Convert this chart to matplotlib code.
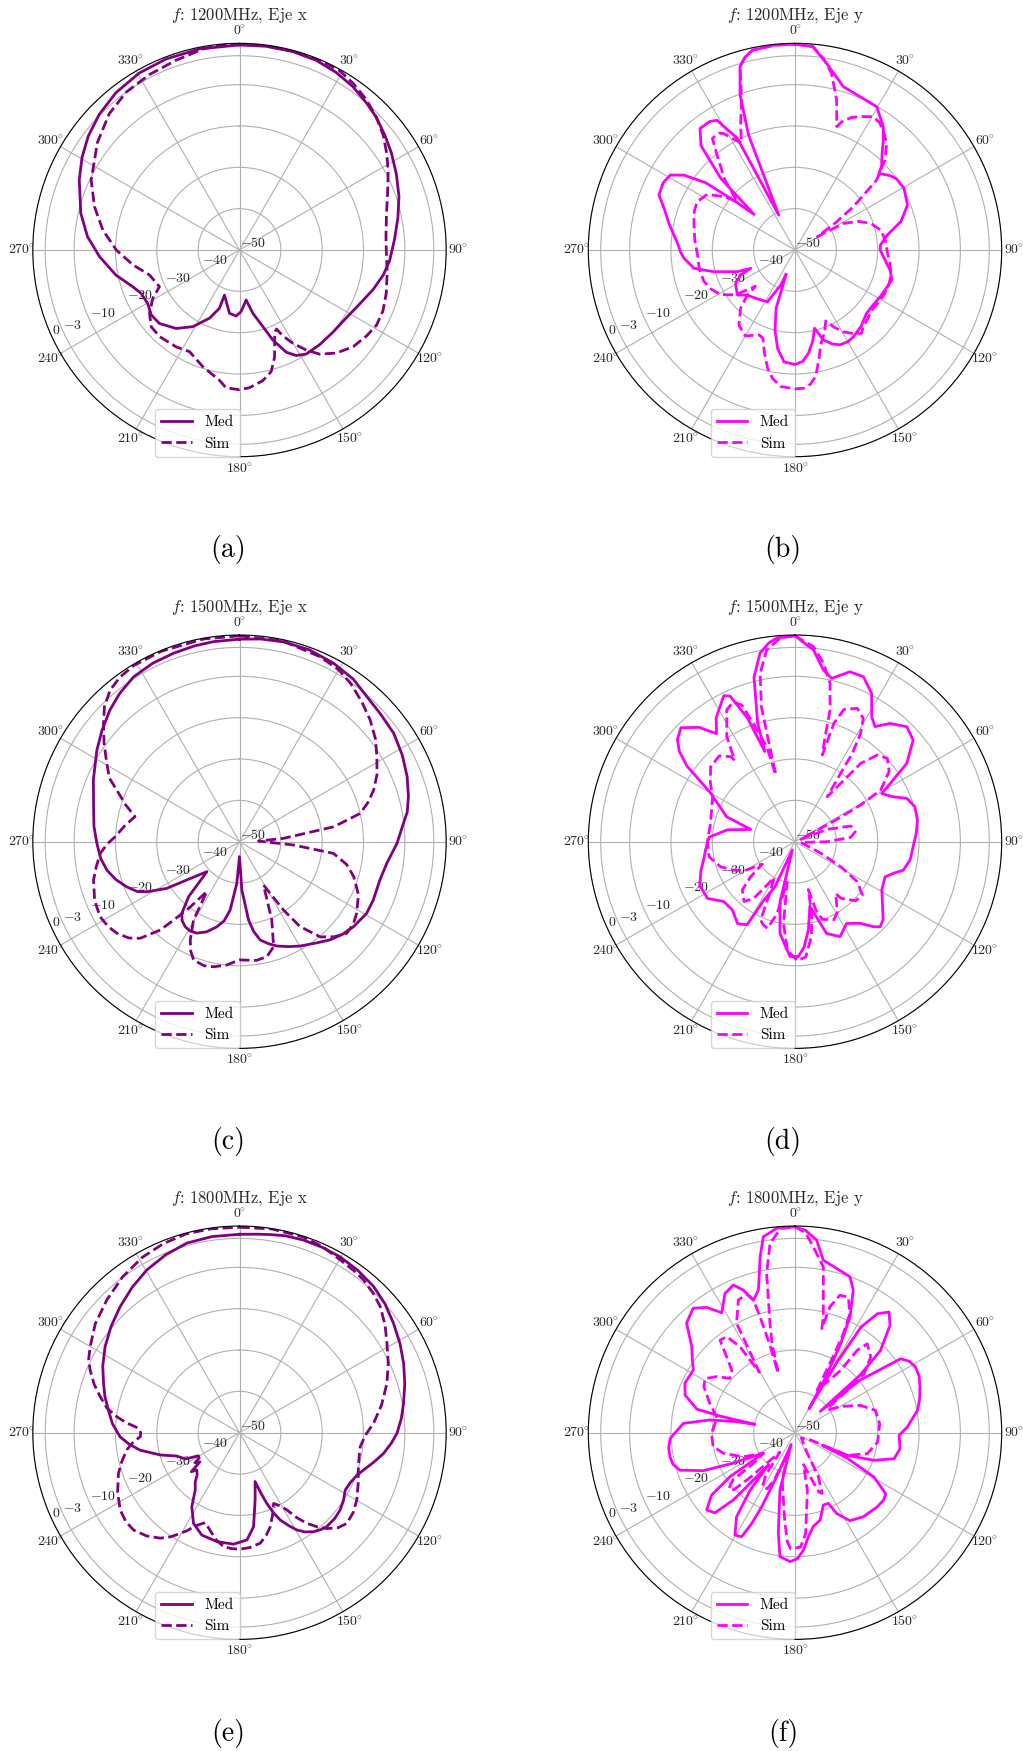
import numpy as np
import matplotlib.pyplot as plt

plt.rcParams['font.family'] = ['cmr10', 'DejaVu Serif']
plt.rcParams['mathtext.fontset'] = 'cm'
plt.rcParams['axes.unicode_minus'] = False

# Patrones de radiacion: (angulo en grados, nivel normalizado en dB)
a_med = [(0, -0.4), (7.4, -0.3), (15, -0.3), (22, -0.5), (28.6, -1.1), (34.8, -1.9), (40.8, -3),
         (45.9, -3.9), (51.7, -5.2), (57.5, -6.4), (64.4, -7.9), (71.4, -9.3), (78.5, -10.9),
         (86, -12.4), (94.1, -13.6), (99.9, -14.7), (106.5, -16.3), (114, -18.1), (122.5, -19.4),
         (131.4, -19.9), (139.8, -20), (147.3, -20.1), (151.7, -21), (155.4, -22.8),
         (159.7, -26.8), (163, -30.6), (168, -34.3), (172.4, -37.8), (178.5, -35.1),
         (182.9, -34), (189, -34.5), (198.4, -38.5), (199, -35.1), (203.7, -32), (211.3, -28.3),
         (218.9, -25.6), (227.5, -23.7), (233.7, -23.5), (239.8, -24.3), (246.2, -24),
         (251, -22.7), (258.5, -19.5), (267.3, -16.1), (275, -13.1), (283, -10.6),
         (293.6, -7.7), (300.5, -5.8), (307, -4.2), (314.1, -2.8), (321.9, -1.6), (330.5, -0.8),
         (339, -0.5), (348.8, -0.4), (360, -0.4)]
a_sim = [(0, -0.2), (7.4, -0.2), (14.8, -0.2), (22.5, -0.2), (29, -0.3), (34.3, -1.2),
         (40.1, -2.4), (45.9, -3.9), (51.4, -5.5), (56.7, -7.4), (62.1, -9.3), (68.9, -11.6),
         (76.3, -13.4), (84.4, -14.4), (90, -14.5), (98.3, -13.9), (106.3, -13), (113, -12.3),
         (118.8, -12.2), (124.1, -12.9), (130.4, -13.9), (136.8, -15.8), (142.4, -18.2),
         (146.3, -20.9), (150.2, -24), (153.2, -26.7), (154.9, -28.9), (156.9, -28.3),
         (161.9, -22.7), (165.4, -19.6), (169.9, -17.9), (175.9, -16.6), (180, -16.2),
         (185.6, -16.5), (188.7, -18.1), (197.4, -20.4), (206.2, -22.6), (213.2, -22),
         (222.7, -21.5), (229, -21.7), (234.9, -23.4), (240.9, -26), (245.4, -28.7),
         (254.5, -27.4), (262, -24), (270, -20.2), (278.3, -16.6), (286.6, -13.4),
         (295.3, -10.3), (298.2, -9.7), (307.1, -6.9), (316.3, -4.4), (324.3, -3),
         (332.8, -2.3), (341.5, -1.6), (349.6, -0.6), (355, -0.2), (360, -0.2)]

b_med = [(0, -0.2), (5, -0.6), (9.6, -4.2), (16.5, -8.8), (23, -9.7), (29.7, -10.1),
         (35.6, -13.3), (38.8, -15.9), (42, -18.5), (46, -20.9), (47.6, -22.5), (52, -20.8),
         (55, -20), (60.5, -19.7), (68.2, -20.7), (75, -23.5), (80.8, -27.4), (86.7, -29.3),
         (90, -29.4), (96.3, -28.1), (101.9, -26.5), (107, -25.5), (112, -26), (118.8, -26.5),
         (125, -26.9), (131.5, -26.9), (139, -25.6), (146, -24.7), (150, -24.4), (154.6, -24.6),
         (158.5, -25.6), (162.5, -27.2), (166, -30.5), (169, -27.5), (172.6, -24.8), (176, -23),
         (180, -22.3), (185.6, -22.8), (190, -25.8), (194, -30), (198, -35.2), (200, -43.8),
         (202, -40.9), (208, -35.8), (217.5, -35.1), (226.6, -34.1), (232, -32.3),
         (240.7, -33.5), (245.3, -35.5), (247.5, -38.4), (249.4, -35.1), (255, -29.7),
         (259.7, -25.2), (265.7, -23.1), (269, -22.3), (273, -21.6), (277, -20.5),
         (282, -18.8), (287.6, -16.8), (292, -14.5), (297, -14.2), (301, -14.8), (304, -17.6),
         (307, -23), (309, -30.8), (311, -36.9), (314, -25), (318, -16), (322, -12.7),
         (326.5, -12.7), (329, -13.4), (332.7, -19.6), (335, -40.7), (338, -20), (340.5, -10.2),
         (343.3, -3.7), (345.5, -1.8), (348, -0.6), (354, -0.2), (360, -0.2)]
b_sim = [(0, -0.2), (5, -0.6), (8.5, -3.2), (11.7, -6.4), (15.5, -12.3), (18.7, -18.5),
         (20, -17), (23, -15.2), (26, -14.1), (30.4, -12.6), (33.5, -13), (36.4, -14),
         (40.7, -16), (45, -19.2), (49.4, -24), (53.4, -32.4), (56, -38), (59, -43.7),
         (61.4, -36.5), (66, -33), (70.6, -30.6), (76.9, -28.7), (84, -28), (91, -27.7),
         (98, -26.8), (104.6, -26), (110, -25.8), (116.8, -25.9), (123, -26.2), (129, -26.4),
         (134, -25.7), (139, -25), (141.3, -24.2), (145, -25.3), (149.4, -27), (153, -29),
         (156.6, -31.3), (160, -29), (164.9, -26.2), (167.5, -23.1), (170.7, -19),
         (173.5, -17.3), (176.3, -16.5), (180, -16.4), (186, -16.8), (190, -18.5),
         (193, -20.6), (196.5, -24), (200, -27.3), (203, -27.7), (210, -26), (216.7, -27.3),
         (223, -30.7), (226.6, -34.1), (227.5, -37), (233, -32), (239, -29), (245, -27.6),
         (251, -26.7), (259, -26.4), (267, -26.4), (276, -25.6), (285.7, -24.6),
         (291, -23.9), (296.3, -23.6), (302.4, -24.9), (306.9, -28.5), (310, -31.8),
         (315, -26), (320, -21), (323.5, -16.4), (326.9, -16.3), (328.4, -16.9),
         (333.4, -21.1), (336.5, -17), (340.4, -11.5), (343.3, -3.7), (345.5, -1.8),
         (348, -0.6), (354, -0.2), (360, -0.2)]

c_med = [(0, -1.0), (6, -0.7), (12.4, -0.5), (20, -0.6), (27.8, -1.2), (35, -2), (41.3, -3.3),
         (48, -4), (54.9, -4.4), (62, -5.4), (68.8, -6.5), (75, -7.7), (80, -8.8), (83.6, -10.1),
         (90.6, -11.9), (98.4, -14), (105.2, -14.8), (113.5, -14.7), (119.4, -14.7),
         (126.7, -15.6), (132, -16.5), (137.3, -17.7), (143, -19.3), (149.8, -20.8),
         (155, -22), (160.3, -23.2), (164, -24.3), (168.1, -25.7), (171, -28), (173.4, -30.9),
         (177.2, -38.3), (180, -46.4), (183.7, -39.9), (187.8, -33.3), (191, -30.5),
         (194.9, -28.7), (200, -26.8), (205, -25.6), (209, -25.3), (212.6, -25.6),
         (216, -26.4), (218.8, -27.7), (222.8, -31.9), (227.4, -39.3), (234, -34.3),
         (237.3, -29.1), (241.6, -24.5), (244, -22.5), (248.2, -20.6), (253, -18.7),
         (257.9, -17.2), (263, -16.2), (269.3, -15.5), (276, -14.6), (283.5, -13.7),
         (293, -11.6), (302.7, -9), (309, -7.2), (315.5, -5.3), (321, -3.9), (327.3, -2.6),
         (334, -2), (340.7, -1.7), (347, -1.4), (352.6, -1.2), (360, -1.0)]
c_sim = [(0, -0.2), (12, -0.3), (23.6, -1.2), (30, -2), (35, -3.2), (41, -5), (47, -6.8),
         (53, -8.8), (58.2, -10.9), (64, -13), (68.9, -15.2), (73, -17.5), (76.8, -20),
         (81, -26.9), (85.7, -39.4), (88, -45.4), (93.5, -36.9), (97.1, -27.1), (102, -23.5),
         (107, -21.1), (114, -18.5), (121.4, -16.8), (126, -16), (130.5, -15.9), (135, -17.5),
         (139.7, -19.8), (144.5, -24.8), (147.2, -30.3), (151, -38), (157.6, -29.5),
         (162, -23.3), (166.6, -21.4), (172, -21), (180, -21.4), (186, -20), (191.7, -19.1),
         (196, -18.8), (201.2, -19.3), (204, -21), (206.6, -23.4), (210.4, -28),
         (213.2, -35.6), (217.6, -29.1), (221.9, -21.3), (225.8, -16.5), (229, -14.5),
         (233.2, -13), (237, -12.2), (241.7, -11.7), (248, -12.2), (255.3, -13.5),
         (260, -14.8), (265.2, -16.2), (269, -18), (272.3, -19.9), (278, -22), (283.5, -24),
         (288, -21), (292.8, -17.8), (296, -15), (300.6, -12.7), (306, -9.5), (311, -6.4),
         (315, -3.8), (319.5, -1.8), (324, -0.8), (329, -0.3), (337.7, -0.2), (350, -0.2),
         (360, -0.2)]

d_med = [(0, -0.2), (5.5, -3.4), (9.4, -7.9), (12.7, -9.5), (17.9, -6.8), (22.5, -6.8),
         (27.3, -9.6), (31.5, -14.5), (34.8, -16.1), (38.8, -13.3), (44.2, -11.2), (49.3, -12.3),
         (55, -17), (61, -26), (65.4, -23.9), (68.8, -21), (73.7, -19.8), (80, -19.9),
         (86, -20.6), (92.4, -21.4), (99, -21.8), (104.7, -22.9), (107.8, -25), (111.3, -26.6),
         (119, -26), (126.6, -23.6), (131.6, -21.5), (135, -20.9), (137.3, -22),
         (141.5, -24.8), (147.7, -26.6), (154.6, -24.6), (161, -26.5), (163.4, -30.2),
         (167, -34), (171.4, -28.4), (175, -24.5), (178.3, -22.2), (182.5, -22.2),
         (189.3, -27.5), (194, -35), (197.7, -47.9), (204, -38), (208, -34), (210, -26.8),
         (215, -25.8), (222.5, -27.6), (230, -27.5), (237, -24.8), (245, -24.6), (253, -26.2),
         (259, -27.5), (265, -28.3), (273, -29.2), (280, -33.4), (285.5, -38.9), (290, -32.4),
         (300, -26.4), (305, -18.1), (308, -14.5), (311, -12.3), (315, -11), (320, -13.9),
         (324, -17.7), (327.5, -14.5), (331, -12.6), (334, -10.7), (336, -11.5), (339, -18),
         (341.5, -27), (342.5, -20), (346, -9), (349.5, -3.6), (352.5, -1.5), (355, -0.5),
         (360, -0.2)]
d_sim = [(0, -0.2), (5.4, -2.6), (9, -6.2), (12.5, -10.8), (14.9, -17), (16, -23.6),
         (17.5, -28), (18.2, -19.8), (20.3, -15.9), (25, -14.4), (29, -15.9), (31.2, -19.4),
         (33, -24.5), (33.7, -30.1), (35.7, -36.6), (38.5, -31), (40, -25.3), (43.5, -21.1),
         (47.9, -19.9), (53.3, -21.6), (58.9, -25.8), (60.8, -31.8), (62, -39), (67.6, -48.5),
         (69, -41.6), (74.3, -36), (80.6, -35.2), (85.5, -36.5), (90, -42.2), (97, -48.6),
         (114, -43.2), (118.7, -37.4), (122.7, -32.1), (128.4, -29.2), (134.2, -29.5),
         (141, -32.4), (141.8, -34.1), (148.8, -30.2), (153.5, -28.9), (160.6, -30.1),
         (163, -32.7), (164.5, -38), (167, -32), (170.2, -26.7), (174.7, -22), (178.9, -21.2),
         (184, -23.7), (188, -30), (191, -40), (194, -32), (197.7, -28), (201, -28.5),
         (203.7, -29.3), (206, -36), (210, -40), (216, -33), (220.4, -31), (227.5, -32.7),
         (231.7, -36.3), (235.6, -40.4), (240, -36), (245, -33.7), (251.4, -31), (260, -28.9),
         (270, -28.8), (282, -29.1), (290, -28.5), (298.6, -27.3), (305, -25), (311.6, -22.7),
         (318.5, -22.3), (322.9, -24.2), (323.5, -25.5), (327, -19.7), (332.6, -14.1),
         (336.2, -13), (338.7, -14.5), (340.6, -19.7), (343.4, -26), (344, -33.2),
         (345.3, -24.6), (346, -16.4), (348.3, -8.4), (351.6, -3.1), (356, -0.5), (360, -0.2)]

e_med = [(0, -2), (5, -1.8), (8.8, -1.5), (13, -1.1), (18.4, -0.9), (24, -0.9), (29.8, -1),
         (36, -1.4), (42.5, -2), (48.5, -3), (54.6, -4.3), (61, -5.6), (67.1, -6.9),
         (73.5, -8.3), (79.9, -9.7), (85, -10.7), (90.2, -11.9), (94, -13.2), (98.2, -14.8),
         (102.5, -16.8), (106.8, -18.7), (110, -19.8), (114.3, -20.6), (118.5, -20.9),
         (123, -20), (127.5, -19.3), (132, -19), (137.1, -19), (140, -19.4), (143.2, -20.1),
         (146.5, -21.2), (149.5, -22.7), (152, -24.5), (155, -26.7), (157, -29), (158.9, -31.7),
         (160.5, -34.5), (162.3, -37.6), (166.9, -33.3), (171.5, -27), (176, -24), (183, -23),
         (191.7, -23.1), (200.2, -23.6), (206.9, -25.4), (212.8, -28.7), (217.7, -32.5),
         (222, -34), (225, -35.5), (228.8, -36.3), (231, -35), (233.6, -38.1), (236, -37),
         (238, -38.5), (240.7, -38.6), (244, -35.5), (249.6, -33.8), (254.3, -30.1),
         (260, -25.6), (264, -23.2), (268, -21.1), (274, -19.2), (279.8, -17.8), (285, -16.3),
         (290, -15), (296, -13.2), (302.6, -11.4), (309.5, -9.7), (316.6, -8), (323.5, -6.3),
         (330.3, -4.7), (337.5, -3.4), (344.5, -2.4), (352, -2.1), (360, -2)]
e_sim = [(0, -0.3), (9, -0.1), (18, -0.2), (24, -0.7), (30.2, -1.6), (35, -2), (39.1, -2.4),
         (44, -3.3), (48.2, -4.3), (53.5, -6.2), (58.8, -8.3), (65, -10.3), (71.5, -12.4),
         (79, -15), (86, -17.5), (91, -19.5), (96.6, -20.6), (101, -20.5), (105.9, -20.1),
         (113, -18.8), (119.8, -17.3), (125, -16.4), (130.2, -16), (134, -16.9),
         (137.6, -18.6), (140.5, -20.5), (143.4, -22.7), (146, -25.2), (148.5, -28.1),
         (151, -29.8), (154.3, -31), (158, -28.6), (162, -26), (165.5, -24.3), (169.4, -22.8),
         (175, -22.1), (180, -21.8), (184, -21.9), (188, -22.2), (192, -23.4), (195.4, -24.8),
         (198, -25.8), (200.9, -26.7), (203.5, -25.8), (206, -24.7), (208, -23.2),
         (210.5, -21.7), (213.5, -19.8), (216.9, -18.1), (222, -16.4), (227.4, -15.2),
         (232, -15.1), (237, -15.6), (244, -17.2), (251.4, -19.1), (256, -20.6),
         (261.3, -22.4), (265, -24.2), (267.7, -26), (270, -26.1), (272.5, -25.6),
         (275, -22.5), (277.4, -20.1), (280.5, -17.4), (284.5, -15.2), (288.5, -12.9),
         (292.8, -10.8), (296, -9.4), (300, -8.3), (307, -6.3), (315, -4.6), (323, -2.9),
         (331, -1.5), (338, -0.7), (345, -0.2), (352, -0.2), (360, -0.3)]

f_med = [(0, -0.2), (3, -1), (6.4, -3.1), (9.3, -7.7), (14.2, -9), (19.4, -10), (22.2, -12.7),
         (25.4, -19), (27.2, -25.8), (29, -35), (30.3, -43.3), (30.8, -30), (32, -19.9),
         (34.7, -15), (37.9, -13), (41.5, -15.3), (46.1, -21.3), (48.5, -29), (49.8, -42),
         (51, -30), (55, -18.8), (58, -17.4), (61.4, -16.8), (65.5, -17), (69.9, -17.8),
         (75, -18.8), (79.7, -19.9), (87.1, -22.8), (91.5, -24.8), (98.7, -24.3),
         (104.7, -25.2), (109.3, -29.8), (113.4, -36.2), (114.9, -42.7), (116, -36),
         (119.3, -28.1), (124, -23.5), (127.3, -23.1), (132, -23.2), (136.5, -23.6),
         (140.9, -23.8), (148, -24.9), (152.7, -28), (154.7, -31.1), (158.6, -31.2), (164, -28),
         (169, -26.9), (172.7, -24.6), (175.9, -21.5), (179, -19.5), (182.2, -18.8),
         (186.9, -19.8), (189.4, -25.3), (194.7, -35.6), (198, -47), (202.6, -38.5),
         (204.2, -30.4), (205.5, -25.7), (207.2, -21.7), (210.4, -21.3), (214.8, -25.2),
         (218, -32.4), (219.5, -40), (221, -35.9), (222.5, -27.9), (225, -22.6), (228.8, -21.6),
         (233.2, -24.8), (235.9, -31), (237, -40.9), (244.3, -32.6), (247.5, -26), (252, -20.7),
         (255.5, -19.5), (259.1, -19.2), (263, -19.2), (267.4, -19.8), (274.8, -22.9),
         (278.5, -29.2), (280.7, -35.6), (281.8, -40.1), (282.5, -31.5), (283.5, -25.6),
         (288.9, -21.9), (294.2, -20.8), (301.7, -21.1), (305.5, -19.5), (309.8, -17.5),
         (315.3, -12.7), (320.7, -11.1), (324.8, -12.9), (328.6, -16), (333.3, -12.3),
         (337.3, -11.3), (340.1, -13.3), (342.6, -16.4), (345.6, -14.4), (348.8, -6.6),
         (350.8, -2), (355, -0.3), (360, -0.2)]
f_sim = [(0, -0.2), (3, -1.5), (5.6, -4.8), (9.7, -9.3), (11.2, -14.8), (13.7, -21.1),
         (14.5, -24), (15.5, -18.4), (18.1, -15), (21.5, -14.8), (24.7, -18.2), (26, -23.3),
         (26.5, -28.7), (27.5, -38.4), (33, -35), (36.2, -31.3), (37.1, -25), (39.1, -22.3),
         (45, -24.1), (49.5, -28), (51, -33.7), (53.4, -40.3), (56, -40), (60, -37.3),
         (67.4, -32.8), (74.5, -29.8), (84, -29.4), (96.5, -29.9), (106.2, -31.8),
         (113.4, -36.2), (115, -46), (130, -48), (148, -45), (152, -38), (155.9, -33.9),
         (158, -34.5), (161, -38.8), (165, -42), (167.9, -35.7), (174, -25.4), (177.2, -22.3),
         (182.1, -21.9), (184, -23.5), (186.7, -28.6), (194.9, -38), (199, -45),
         (203.8, -37.4), (206.3, -34.9), (211, -34.7), (214.5, -37.5), (218, -44), (225, -34.8),
         (227, -29.8), (229.7, -29), (232.7, -31), (233.5, -37.3), (236.9, -40.9),
         (245, -36.2), (254, -32), (260.3, -29.9), (269.5, -29.8), (280.8, -30.8),
         (289, -28.2), (296.8, -25.3), (301, -24.6), (305.6, -26.7), (309.9, -29.5),
         (314.7, -28.5), (318, -25.3), (321, -21.2), (324.6, -21.5), (327.4, -25.3),
         (328.2, -29.3), (329.5, -33), (331.9, -20), (336.9, -15.1), (340.8, -14.5),
         (342.6, -16.4), (343.2, -20.7), (344, -27.6), (344.3, -35), (345.5, -28),
         (347.1, -22.9), (349.9, -10.9), (352.5, -3.8), (356, -0.5), (360, -0.2)]

titles = [r'$f$: 1200MHz, Eje x', r'$f$: 1200MHz, Eje y',
          r'$f$: 1500MHz, Eje x', r'$f$: 1500MHz, Eje y',
          r'$f$: 1800MHz, Eje x', r'$f$: 1800MHz, Eje y']
captions = ['(a)', '(b)', '(c)', '(d)', '(e)', '(f)']
r_ticks = [-50, -40, -30, -20, -10, -3, 0]
theta_ticks = list(range(0, 360, 30))

med_curves = [a_med, b_med, c_med, d_med, e_med, f_med]
sim_curves = [a_sim, b_sim, c_sim, d_sim, e_sim, f_sim]
colors = ['purple', 'magenta'] * 3

W, H = 1023, 1751
R = 206.7
cx = [239.5, 795]
cy = [250, 841.7, 1432.7]
cap_x = [228, 783]
cap_y = [549, 1141, 1733]
text_gray = '#262626'
theta_label_r = 0.529   # radio (fraccion de ejes) de las etiquetas angulares

fig = plt.figure(figsize=(W / 100, H / 100), dpi=100)

for i in range(6):
    row, col = divmod(i, 2)
    ax = fig.add_axes([(cx[col] - R) / W, 1 - (cy[row] + R) / H, 2 * R / W, 2 * R / H],
                      projection='polar')
    ax.set_theta_zero_location('N')
    ax.set_theta_direction(-1)

    med = np.array(med_curves[i], dtype=float)
    sim = np.array(sim_curves[i], dtype=float)
    ax.plot(np.deg2rad(med[:, 0]), med[:, 1], color=colors[i], lw=2, label='Med')
    ax.plot(np.deg2rad(sim[:, 0]), sim[:, 1], color=colors[i], lw=2, ls='--', label='Sim')

    ax.set_ylim(-50, 0)
    ax.set_yticks(r_ticks)
    ax.set_yticklabels([f'${t}$' for t in r_ticks], fontsize=10, color=text_gray)
    ax.set_rlabel_position(245)
    ax.set_thetagrids(theta_ticks, labels=[])
    for t in theta_ticks:
        a = np.deg2rad(t)
        ax.text(0.5 + theta_label_r * np.sin(a), 0.5 + theta_label_r * np.cos(a),
                rf'${t}^{{\!\!\circ}}$', transform=ax.transAxes, ha='center', va='center',
                fontsize=10, color=text_gray)
    ax.grid(True, color='#b0b0b0', lw=0.8)
    ax.set_title(titles[i], fontsize=12, color=text_gray, y=1.057, pad=0)
    ax.legend(loc='lower right', bbox_to_anchor=(0.5, 0.0), borderaxespad=0, fontsize=11)

    fig.text(cap_x[col] / W, 1 - cap_y[row] / H, captions[i], ha='center', va='center',
             fontsize=20)

fig.savefig('out.png', dpi=100)
